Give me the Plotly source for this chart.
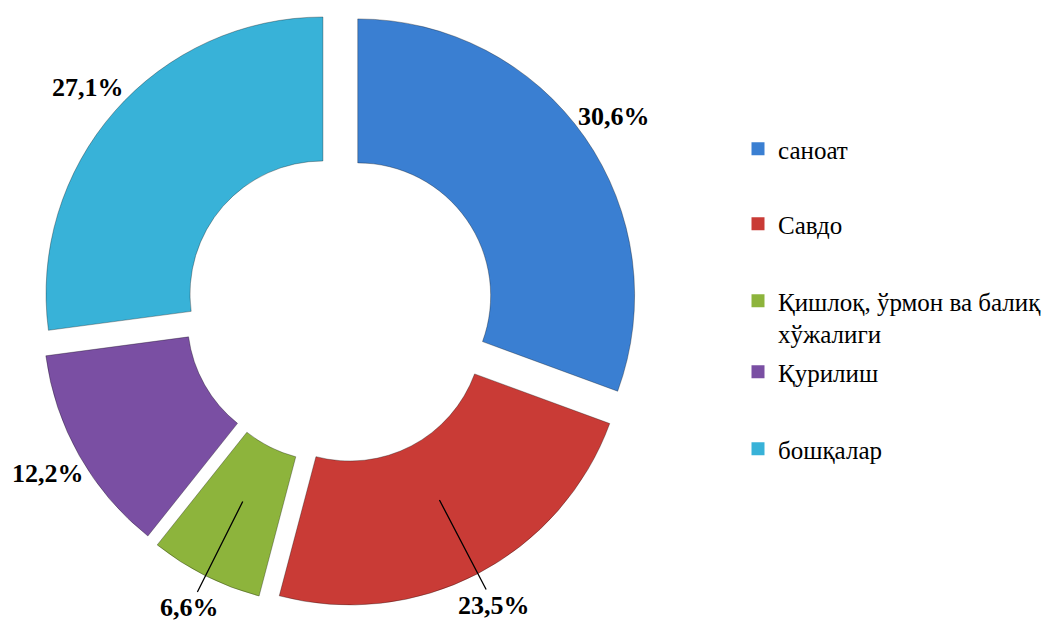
import math
import plotly.graph_objects as go

categories = ["саноат", "Савдо", "Қишлоқ, ўрмон ва балиқ<br>хўжалиги", "Қурилиш", "бошқалар"]
values = [30.6, 23.5, 6.6, 12.2, 27.1]
colors = ["#3a7fd2", "#c93b36", "#8db43c", "#7a4fa3", "#38b2d8"]
labels_text = [f"{v:.1f}%".replace(".", ",") for v in values]
leader_line = [False, True, True, False, False]

serif = "'Times New Roman', 'Liberation Serif', serif"
W, H = 1058, 623
pull = 0.08
hole = 0.48
dom_x = [0.0, 0.6268]
dom_y = [0.0377, 0.9977]

fig = go.Figure()
fig.add_trace(go.Pie(
    labels=categories, values=values,
    textinfo="none",
    marker=dict(colors=colors, line=dict(color="rgba(0,0,0,0.3)", width=1)),
    hole=hole, pull=[pull] * len(values), sort=False, direction="clockwise", rotation=0,
    domain=dict(x=dom_x, y=dom_y),
    showlegend=False, hoverinfo="label+percent", automargin=False,
))

# percentage labels placed along each slice's mid-angle (same geometry plotly uses)
pw, ph = (dom_x[1] - dom_x[0]) * W, (dom_y[1] - dom_y[0]) * H
R = min(pw, ph) / (2 + 2 * pull)
cx = (dom_x[0] + dom_x[1]) / 2 * W
cy = (1 - (dom_y[0] + dom_y[1]) / 2) * H
total = sum(values)
cum = 0.0
for v, txt, lead in zip(values, labels_text, leader_line):
    mid = 2 * math.pi * (cum + v / 2) / total
    cum += v
    sx, sy = math.sin(mid), -math.cos(mid)
    lx, ly = cx + 1.21 * R * sx, cy + 1.21 * R * sy
    font = dict(family=serif, size=26, color="black", weight="bold")
    if lead:
        tr = 0.78 * R
        tx, ty = cx + tr * sx, cy + tr * sy
        fig.add_annotation(
            x=tx / W, y=1 - ty / H, xref="paper", yref="paper",
            ax=lx - tx, ay=ly - ty, axref="pixel", ayref="pixel",
            text=txt, showarrow=True, arrowhead=0, arrowwidth=1.3, arrowcolor="black",
            font=font, standoff=0, xanchor="center", yanchor="middle",
        )
    else:
        fig.add_annotation(
            x=lx / W, y=1 - ly / H, xref="paper", yref="paper",
            text=txt, showarrow=False, font=font, xanchor="center", yanchor="middle",
        )

# one legend box per entry so the vertical rhythm matches the original
legend_centers_px = [141, 216, 309, 364, 441]
legend_names = ["legend", "legend2", "legend3", "legend4", "legend5"]
layout_legends = {}
for i, (c, col) in enumerate(zip(categories, colors)):
    lg = legend_names[i]
    fig.add_trace(go.Scatter(
        x=[None], y=[None], mode="markers", name=c, legend=lg,
        marker=dict(symbol="square", size=13, color=col),
    ))
    layout_legends[lg] = dict(
        x=730 / W, y=1 - legend_centers_px[i] / H, xanchor="left", yanchor="middle",
        font=dict(family=serif, size=25, color="black"),
        itemwidth=30, bgcolor="rgba(0,0,0,0)", valign="top",
    )

fig.update_layout(
    width=W, height=H,
    margin=dict(l=0, r=0, t=0, b=0, autoexpand=False),
    paper_bgcolor="white", plot_bgcolor="white",
    xaxis=dict(visible=False), yaxis=dict(visible=False),
    font=dict(family=serif),
    **layout_legends,
)
fig.write_html("out.html")
